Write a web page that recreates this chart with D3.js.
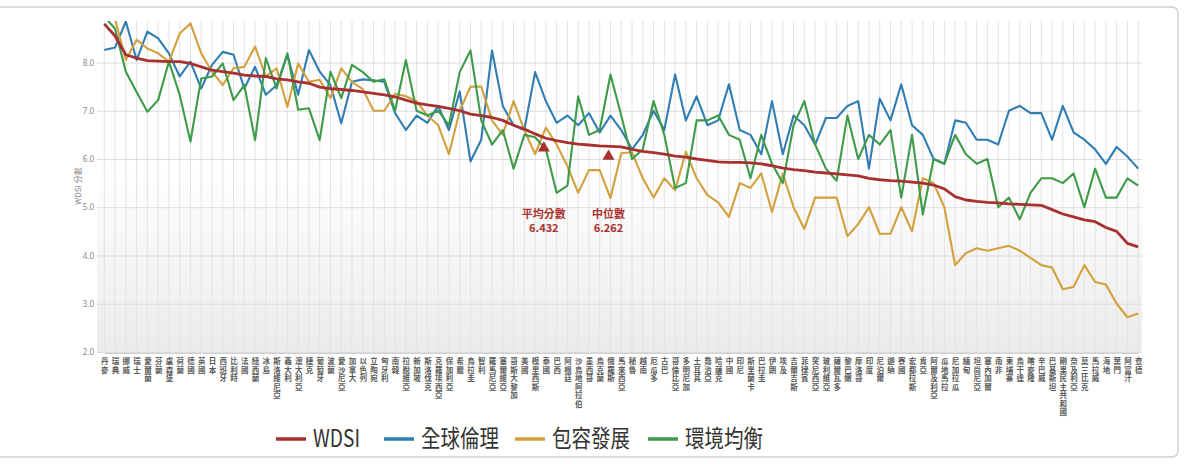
<!DOCTYPE html>
<html>
<head>
<meta charset="utf-8">
<script src="https://cdnjs.cloudflare.com/ajax/libs/d3/7.8.5/d3.min.js"></script>
<style>
  body { margin: 0; background: #fff; }
  svg { font-family: "Noto Sans CJK TC", "Noto Sans", sans-serif; }
</style>
</head>
<body>
<script>
// Länder (x-axel) och serier
var countries = ["丹麥","瑞典","挪威","瑞士","愛爾蘭","芬蘭","盧森堡","荷蘭","德國","英國",
  "日本","西班牙","比利時","法國","紐西蘭","冰島","斯洛維尼亞","義大利","澳大利亞","捷克",
  "葡萄牙","波蘭","愛沙尼亞","加拿大","以色列","立陶宛","匈牙利","南韓","拉脫維亞","新加坡",
  "斯洛伐克","克羅埃西亞","保加利亞","希臘","烏拉圭","智利","羅馬尼亞","塞爾維亞","哥斯大黎加","美國",
  "模里西斯","泰國","巴西","阿根廷","沙烏地阿拉伯","墨西哥","烏克蘭","俄羅斯","馬來西亞","秘魯",
  "越南","厄瓜多","古巴","哥倫比亞","多明尼加","土耳其","喬治亞","哈薩克","中國","印尼",
  "斯里蘭卡","巴拉圭","伊朗","埃及","吉爾吉斯","菲律賓","突尼西亞","玻利維亞","薩爾瓦多","黎巴嫩",
  "摩洛哥","印度","尼泊爾","迦納","寮國","宏都拉斯","肯亞","阿爾及利亞","瓜地馬拉","尼加拉瓜",
  "緬甸","坦尚尼亞","塞內加爾","南非","柬埔寨","烏干達","喀麥隆","辛巴威","巴基斯坦","剛果民主共和國",
  "奈及利亞","莫三比克","馬拉威","海地","葉門","阿富汗","查德"];

var wdsi = [8.80,8.55,8.16,8.09,8.04,8.03,8.02,8.02,7.98,7.91,
  7.84,7.81,7.78,7.74,7.72,7.71,7.66,7.64,7.60,7.57,
  7.49,7.46,7.44,7.42,7.39,7.36,7.33,7.29,7.22,7.16,
  7.12,7.09,7.05,7.00,6.93,6.90,6.86,6.80,6.70,6.62,
  6.52,6.43,6.38,6.34,6.31,6.29,6.27,6.26,6.25,6.20,
  6.16,6.13,6.10,6.06,6.04,6.00,5.97,5.94,5.93,5.93,
  5.92,5.90,5.86,5.81,5.78,5.76,5.73,5.71,5.69,5.67,
  5.65,5.60,5.57,5.55,5.54,5.52,5.50,5.46,5.38,5.22,
  5.15,5.12,5.10,5.09,5.07,5.06,5.05,5.04,4.95,4.86,
  4.80,4.74,4.70,4.58,4.50,4.25,4.18];

var globalEthics = [8.26,8.31,8.85,8.05,8.64,8.50,8.19,7.71,8.02,7.46,
  7.95,8.22,8.16,7.46,7.91,7.33,7.53,8.16,7.33,8.26,
  7.81,7.53,6.74,7.60,7.65,7.63,7.60,6.95,6.60,6.90,
  6.75,7.10,6.60,7.40,5.95,6.40,8.25,7.10,6.70,6.60,
  7.80,7.20,6.75,6.90,6.70,6.95,6.55,6.90,6.60,6.20,
  6.50,7.00,6.60,7.75,6.80,7.30,6.70,6.80,7.55,6.60,
  6.50,6.10,7.20,6.10,6.90,6.70,6.30,6.85,6.85,7.10,
  7.20,5.80,7.25,6.80,7.55,6.70,6.50,6.00,5.90,6.80,
  6.75,6.40,6.40,6.30,7.00,7.10,6.95,6.95,6.40,7.10,
  6.55,6.40,6.20,5.90,6.25,6.05,5.80];

var inclusive = [8.95,8.90,8.05,8.47,8.29,8.19,8.02,8.60,8.81,8.19,
  7.81,7.53,7.88,7.91,8.33,7.71,7.88,7.08,7.98,7.60,
  7.64,7.26,7.88,7.60,7.45,7.00,7.00,7.35,7.30,7.20,
  6.90,6.70,6.10,7.00,7.50,7.50,6.80,6.50,7.20,6.60,
  6.10,6.65,6.30,5.85,5.30,5.77,5.77,5.19,6.12,6.14,
  5.60,5.20,5.60,5.35,6.15,5.60,5.25,5.10,4.80,5.50,
  5.40,5.70,4.90,5.70,5.00,4.55,5.20,5.20,5.20,4.40,
  4.65,5.00,4.45,4.45,5.00,4.50,5.60,5.50,5.00,3.80,
  4.05,4.15,4.10,4.15,4.20,4.10,3.95,3.80,3.75,3.30,
  3.35,3.80,3.45,3.40,3.00,2.72,2.80];

var environment = [8.95,8.70,7.81,7.39,6.98,7.22,8.02,7.33,6.36,7.67,
  7.71,7.98,7.22,7.53,6.39,8.09,7.46,8.19,7.02,7.05,
  6.39,7.81,7.26,7.95,7.80,7.60,7.65,7.00,8.05,7.00,
  6.90,7.00,6.70,7.80,8.25,6.80,6.30,6.60,5.80,6.50,
  6.45,6.20,5.30,5.45,7.30,6.50,6.60,7.75,6.90,6.00,
  6.20,7.20,6.50,5.40,5.50,6.80,6.80,6.90,6.50,6.40,
  5.60,6.50,5.90,5.50,6.70,7.20,6.30,5.80,5.55,6.90,
  6.00,6.50,6.30,6.60,5.20,6.50,4.85,6.00,5.90,6.50,
  6.10,5.90,6.00,5.00,5.20,4.75,5.30,5.60,5.60,5.50,
  5.70,5.00,5.80,5.20,5.20,5.60,5.45];

var yTicks = [2, 3, 4, 5, 6, 7, 8];
var seriesNames = ["WDSI", "全球倫理", "包容發展", "環境均衡"];
var seriesColors = ["#a8302f", "#2f7db2", "#d2a03d", "#3d9b4a"];
var markers = [
  { label: "平均分數", value: 6.432, country: "泰國" },
  { label: "中位數", value: 6.262, country: "俄羅斯" }
];

// Mått
var width = 1188, height = 464;
var plotLeft = 97, plotRight = 1142, plotTop = 21, plotBottom = 353;

var svg = d3.select("body").append("svg").attr("width", width).attr("height", height);

// Ram runt hela diagrammet
svg.append("rect")
  .attr("x", -6).attr("y", 7).attr("width", 1184).attr("height", 450).attr("rx", 6)
  .attr("fill", "#fff").attr("stroke", "#cfcfcf").attr("stroke-width", 1.5);

var defs = svg.append("defs");
var grad = defs.append("linearGradient").attr("id", "bg").attr("x1", 0).attr("x2", 0).attr("y1", 0).attr("y2", 1);
grad.append("stop").attr("offset", "0%").attr("stop-color", "#ffffff");
grad.append("stop").attr("offset", "45%").attr("stop-color", "#ffffff");
grad.append("stop").attr("offset", "100%").attr("stop-color", "#ebebeb");
defs.append("clipPath").attr("id", "clip").append("rect")
  .attr("x", plotLeft).attr("y", plotTop).attr("width", plotRight - plotLeft).attr("height", plotBottom - plotTop + 2);

svg.append("rect")
  .attr("x", plotLeft).attr("y", plotTop).attr("width", plotRight - plotLeft).attr("height", plotBottom - plotTop)
  .attr("fill", "url(#bg)");

// Skalor
var xScale = d3.scalePoint().domain(countries).range([104.3, 1138.2]);
var yScale = d3.scaleLinear().domain([2, 8.86]).range([352, plotTop]);

// Vertikala stödlinjer
svg.append("g").selectAll("line").data(countries).enter()
  .append("line")
  .attr("x1", function(d) { return xScale(d); })
  .attr("x2", function(d) { return xScale(d); })
  .attr("y1", plotTop).attr("y2", plotBottom)
  .attr("stroke", "#e3e3e3").attr("stroke-width", 1);

// Y-axel med horisontella stödlinjer
var yAxis = d3.axisLeft(yScale).tickValues(yTicks).tickSize(-(plotRight - plotLeft)).tickPadding(3);
var yG = svg.append("g").attr("transform", "translate(" + plotLeft + ",0)").call(yAxis);
yG.select(".domain").remove();
yG.selectAll("line").attr("stroke", "#dcdcdc");
yG.selectAll("text").attr("fill", "#888").attr("font-size", 8).attr("font-family", "Noto Sans, sans-serif");

svg.append("text")
  .attr("transform", "translate(81,186) rotate(-90)")
  .attr("text-anchor", "middle").attr("font-size", 8).attr("fill", "#888")
  .text("WDSI 分數");

// X-axel: landnamnen staplas tecken för tecken
var xAxis = d3.axisBottom(xScale).tickSize(0).tickPadding(4);
var xG = svg.append("g").attr("transform", "translate(0," + plotBottom + ")").call(xAxis);
xG.select(".domain").attr("stroke", "#d0d0d0");
xG.selectAll(".tick text")
  .attr("text-anchor", "middle")
  .attr("font-size", 7.5).attr("font-weight", "bold").attr("fill", "#5a5a5a")
  .attr("font-family", "Noto Sans CJK TC, sans-serif")
  .each(function(d) {
    var t = d3.select(this);
    t.text(null);
    d.split("").forEach(function(ch, k) {
      t.append("tspan").attr("x", 0).attr("y", 11 + k * 8.5).attr("dy", 0).text(ch);
    });
  });

// Linjer
var seriesData = [wdsi, globalEthics, inclusive, environment];
var line = d3.line()
  .x(function(d, i) { return xScale(countries[i]); })
  .y(function(d) { return yScale(d); });

var lineG = svg.append("g").attr("clip-path", "url(#clip)");
[1, 2, 3, 0].forEach(function(s) {
  lineG.append("path")
    .attr("d", line(seriesData[s]))
    .attr("fill", "none")
    .attr("stroke", seriesColors[s])
    .attr("stroke-width", s === 0 ? 2.8 : 2.1)
    .attr("stroke-linejoin", "round");
});

// Medel- och medianmarkörer
var tri = d3.symbol().type(d3.symbolTriangle).size(62);
markers.forEach(function(m) {
  var mx = xScale(m.country) - 2, my = yScale(m.value);
  svg.append("path").attr("d", tri).attr("transform", "translate(" + mx + "," + (my + 10) + ")")
    .attr("fill", "#a8302f");
  svg.append("text").attr("x", mx).attr("y", 218).attr("text-anchor", "middle")
    .attr("font-size", 11).attr("font-weight", "bold").attr("fill", "#a8302f").text(m.label);
  svg.append("text").attr("x", mx).attr("y", 232).attr("text-anchor", "middle")
    .attr("font-size", 11).attr("font-weight", "bold").attr("fill", "#a8302f").text(m.value.toFixed(3));
});

// Förklaring
var legendX = [276, 384, 515, 648];
var legendW = [47, 78, 78, 78];
var legend = svg.append("g");
seriesNames.forEach(function(name, i) {
  legend.append("line")
    .attr("x1", legendX[i]).attr("x2", legendX[i] + 30)
    .attr("y1", 439).attr("y2", 439)
    .attr("stroke", seriesColors[i]).attr("stroke-width", 3.5);
  legend.append("text")
    .attr("x", legendX[i] + 37).attr("y", 447)
    .attr("font-size", 24).attr("fill", "#333")
    .attr("textLength", legendW[i]).attr("lengthAdjust", "spacingAndGlyphs")
    .text(name);
});
</script>
</body>
</html>
